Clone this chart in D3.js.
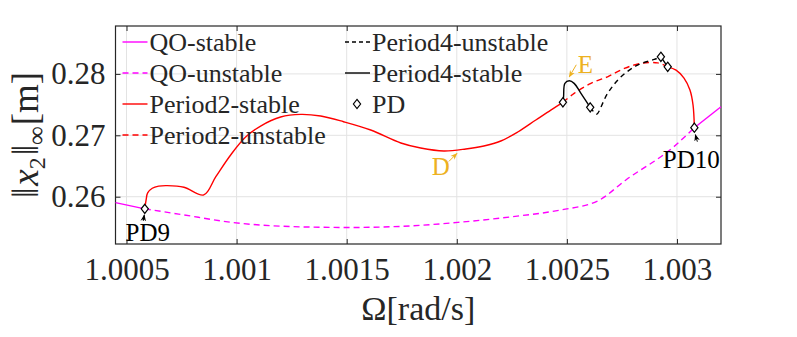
<!DOCTYPE html>
<html>
<head>
<meta charset="utf-8">
<script src="https://cdn.jsdelivr.net/npm/d3@7"></script>
<style>
  body { margin: 0; background: #fff; }
  text { font-family: "Liberation Serif", "DejaVu Serif", serif; fill: #262626; }
</style>
</head>
<body>
<svg id="chart" width="797" height="337"></svg>
<script>
// series: [Omega, ||x2||]
const qoStableLeft = [[1.00045, 0.25904], [1.000583, 0.25802]];
const qoUnstable = [
  [1.000583, 0.25802], [1.000746, 0.25712], [1.000986, 0.25579], [1.001291, 0.25509],
  [1.001518, 0.25499], [1.001746, 0.25517], [1.002005, 0.25582], [1.002246, 0.25672],
  [1.002473, 0.25785], [1.002641, 0.25932], [1.002768, 0.26273], [1.002986, 0.26815],
  [1.003079, 0.27124]
];
const qoStableRight = [[1.003079, 0.27124], [1.0032, 0.27465]];
const p2StableA = [
  [1.000583, 0.25802], [1.000589, 0.25948], [1.000596, 0.26062], [1.000617, 0.26138],
  [1.000646, 0.26172], [1.000685, 0.26180], [1.000761, 0.26154], [1.000851, 0.26029],
  [1.000905, 0.26322], [1.000973, 0.2668], [1.001041, 0.26972], [1.001109, 0.27151],
  [1.0012, 0.27298], [1.001291, 0.27341], [1.001382, 0.27314], [1.001486, 0.27221],
  [1.001609, 0.27086], [1.001746, 0.26875], [1.001836, 0.26793], [1.001941, 0.26745],
  [1.002041, 0.26777], [1.002123, 0.26826], [1.0022, 0.26907], [1.002277, 0.27054],
  [1.002359, 0.27249], [1.002427, 0.27411], [1.002482, 0.27537]
];
const p2Unstable = [
  [1.002482, 0.27537], [1.002533, 0.27683], [1.002609, 0.27846], [1.002685, 0.27953],
  [1.002761, 0.28089], [1.002836, 0.28171], [1.002912, 0.2818], [1.002958, 0.28115]
];
const p2StableB = [
  [1.002958, 0.28115], [1.002996, 0.28062], [1.003032, 0.27932], [1.003059, 0.27737],
  [1.003073, 0.27493], [1.003079, 0.27124]
];
const p4StableA = [
  [1.002482, 0.27537], [1.002485, 0.27628], [1.002491, 0.27846], [1.002511, 0.27888],
  [1.002533, 0.27846], [1.002564, 0.27683], [1.002606, 0.27455]
];
const p4Unstable = [
  [1.002606, 0.27455], [1.002627, 0.27363], [1.002636, 0.27346], [1.002685, 0.27683],
  [1.002746, 0.27953], [1.002821, 0.28143], [1.002897, 0.28236], [1.002927, 0.28278]
];
const p4StableB = [[1.002927, 0.28278], [1.002958, 0.28115]];
const pdPoints = [
  [1.000583, 0.25802], [1.002482, 0.27537], [1.002606, 0.27455],
  [1.002927, 0.28278], [1.002958, 0.28115], [1.003079, 0.27124]
];

const xTicks = [1.0005, 1.001, 1.0015, 1.002, 1.0025, 1.003];
const yTicks = [0.26, 0.27, 0.28];
const legendLabels = ["QO-stable", "QO-unstable", "Period2-stable", "Period2-unstable",
                      "Period4-unstable", "Period4-stable", "PD"];

const margin = {top: 26, right: 76, bottom: 93, left: 115.5};
const svg = d3.select("#chart");
const width = +svg.attr("width") - margin.left - margin.right;
const height = +svg.attr("height") - margin.top - margin.bottom;

const x = d3.scaleLinear().domain([1.00045, 1.0032]).range([0, width]);
const y = d3.scaleLinear().domain([0.2523, 0.2878]).range([height, 0]);

const g = svg.append("g").attr("transform", `translate(${margin.left},${margin.top})`);

// grid
g.append("g").selectAll("line").data(xTicks).join("line")
  .attr("x1", d => x(d)).attr("x2", d => x(d)).attr("y1", 0).attr("y2", height)
  .attr("stroke", "#e3e3e3").attr("stroke-width", 1);
g.append("g").selectAll("line").data(yTicks).join("line")
  .attr("y1", d => y(d)).attr("y2", d => y(d)).attr("x1", 0).attr("x2", width)
  .attr("stroke", "#e3e3e3").attr("stroke-width", 1);

// axes
const fmt = d => String(+d.toFixed(4));
g.append("g").attr("transform", `translate(0,${height})`)
  .call(d3.axisBottom(x).tickValues(xTicks).tickFormat(fmt).tickSizeInner(-5).tickSizeOuter(0).tickPadding(14));
g.append("g")
  .call(d3.axisLeft(y).tickValues(yTicks).tickFormat(d => d.toFixed(2)).tickSizeInner(-5).tickSizeOuter(0).tickPadding(10));
g.append("g").call(d3.axisTop(x).tickValues(xTicks).tickFormat("").tickSizeInner(-5).tickSizeOuter(0));
g.append("g").attr("transform", `translate(${width},0)`)
  .call(d3.axisRight(y).tickValues(yTicks).tickFormat("").tickSizeInner(-5).tickSizeOuter(0));
g.selectAll(".domain").remove();
g.selectAll(".tick line").attr("stroke", "#262626");
g.selectAll(".tick text").style("font-family", '"Liberation Serif", serif').style("font-size", "31px").attr("fill", "#262626");
g.append("rect").attr("width", width).attr("height", height)
  .attr("fill", "none").attr("stroke", "#262626").attr("stroke-width", 1.2);

// curves
const line = d3.line().x(d => x(d[0])).y(d => y(d[1])).curve(d3.curveMonotoneX);
const lineFree = d3.line().x(d => x(d[0])).y(d => y(d[1])).curve(d3.curveCatmullRom.alpha(0.5));
const series = [
  {data: qoUnstable, color: "#ff00ff", dash: "6,4", gen: line},
  {data: qoStableLeft, color: "#ff00ff", dash: null, gen: line},
  {data: qoStableRight, color: "#ff00ff", dash: null, gen: line},
  {data: p2StableA, color: "#ff0000", dash: null, gen: lineFree},
  {data: p2Unstable, color: "#ff0000", dash: "6,4", gen: lineFree},
  {data: p2StableB, color: "#ff0000", dash: null, gen: lineFree},
  {data: p4StableA, color: "#000000", dash: null, gen: lineFree},
  {data: p4Unstable, color: "#000000", dash: "5,4", gen: lineFree},
  {data: p4StableB, color: "#000000", dash: null, gen: lineFree}
];
g.append("g").selectAll("path").data(series).join("path")
  .attr("d", d => d.gen(d.data))
  .attr("fill", "none")
  .attr("stroke", d => d.color)
  .attr("stroke-width", 1.4)
  .attr("stroke-dasharray", d => d.dash);

// PD markers
const diamond = {
  draw(ctx, size) {
    const w = 3.6, h = 4.6;
    ctx.moveTo(0, -h); ctx.lineTo(w, 0); ctx.lineTo(0, h); ctx.lineTo(-w, 0); ctx.closePath();
  }
};
g.append("g").selectAll("path").data(pdPoints).join("path")
  .attr("d", d3.symbol(diamond))
  .attr("transform", d => `translate(${x(d[0])},${y(d[1])})`)
  .attr("fill", "#fff").attr("stroke", "#000").attr("stroke-width", 1.2);

// annotations
const orange = "#EDB120";
const defs = svg.append("defs");
[["headBlack", "#000"], ["headOrange", orange]].forEach(([id, c]) => {
  defs.append("marker").attr("id", id).attr("viewBox", "0 0 10 10")
    .attr("refX", 9).attr("refY", 5).attr("markerWidth", 7).attr("markerHeight", 7)
    .attr("orient", "auto")
    .append("path").attr("d", "M0,1 L10,5 L0,9 L3,5 Z").attr("fill", c);
});
function arrow(p, dx1, dy1, dx2, dy2, id, col) {
  g.append("line")
    .attr("x1", x(p[0]) + dx1).attr("y1", y(p[1]) + dy1)
    .attr("x2", x(p[0]) + dx2).attr("y2", y(p[1]) + dy2)
    .attr("stroke", col).attr("stroke-width", 1).attr("marker-end", `url(#${id})`);
}
function label(p, dx, dy, txt, col, anchor) {
  g.append("text").attr("x", x(p[0]) + dx).attr("y", y(p[1]) + dy)
    .attr("text-anchor", anchor || "middle").style("font-size", "25px")
    .attr("fill", col).style("fill", col).text(txt);
}
const pd9 = pdPoints[0], pd10 = pdPoints[5];
arrow(pd9, -1.5, 12, -0.5, 6, "headBlack", "#000");
label(pd9, 3, 32, "PD9", "#000");
arrow(pd10, 3, 14, 1, 7, "headBlack", "#000");
label(pd10, -3, 40, "PD10", "#000");
const ePeak = p4StableA[3];
arrow(ePeak, 7, -16, 0, -4, "headOrange", orange);
label(ePeak, 16, -8, "E", orange);
const dMin = [1.002005, 0.26770];
arrow(dMin, -9, 12, -1, 4, "headOrange", orange);
label(dMin, -17, 26, "D", orange);

// legend
const legend = svg.append("g");
const legendItems = [
  {label: legendLabels[0], col: 0, row: 0, color: "#ff00ff", dash: null},
  {label: legendLabels[1], col: 0, row: 1, color: "#ff00ff", dash: "6,4"},
  {label: legendLabels[2], col: 0, row: 2, color: "#ff0000", dash: null},
  {label: legendLabels[3], col: 0, row: 3, color: "#ff0000", dash: "6,4"},
  {label: legendLabels[4], col: 1, row: 0, color: "#000", dash: "4,3"},
  {label: legendLabels[5], col: 1, row: 1, color: "#000", dash: null},
  {label: legendLabels[6], col: 1, row: 2, color: null, dash: null}
];
const colX = [122.5, 345], rowY = [42, 73, 104, 135];
legendItems.forEach(it => {
  const lx = colX[it.col], ly = rowY[it.row];
  if (it.color) {
    legend.append("line").attr("x1", lx).attr("x2", lx + 25).attr("y1", ly).attr("y2", ly)
      .attr("stroke", it.color).attr("stroke-width", 1.4).attr("stroke-dasharray", it.dash);
  } else {
    legend.append("path").attr("d", d3.symbol(diamond))
      .attr("transform", `translate(${lx + 12},${ly})`)
      .attr("fill", "#fff").attr("stroke", "#000").attr("stroke-width", 1.2);
  }
  legend.append("text").attr("x", lx + 27).attr("y", ly + 8.5)
    .style("font-size", "26px").attr("fill", "#000").text(it.label);
});

// axis titles
svg.append("text").attr("x", margin.left + width / 2).attr("y", 320)
  .attr("text-anchor", "middle").style("font-size", "34px").attr("fill", "#262626")
  .text("Ω[rad/s]");
const yt = svg.append("text")
  .attr("transform", `translate(38,135) rotate(-90)`)
  .attr("text-anchor", "middle").style("font-size", "37px").attr("fill", "#262626");
yt.append("tspan").text("‖");
yt.append("tspan").attr("dx", 2).style("font-style", "italic").text("x");
yt.append("tspan").attr("dy", 7).style("font-size", "24px").text("2");
yt.append("tspan").attr("dy", -7).attr("dx", 2).text("‖");
yt.append("tspan").attr("dy", 7).style("font-size", "26px").text("∞");
yt.append("tspan").attr("dy", -7).attr("dx", 1).text("[m]");
</script>
</body>
</html>
